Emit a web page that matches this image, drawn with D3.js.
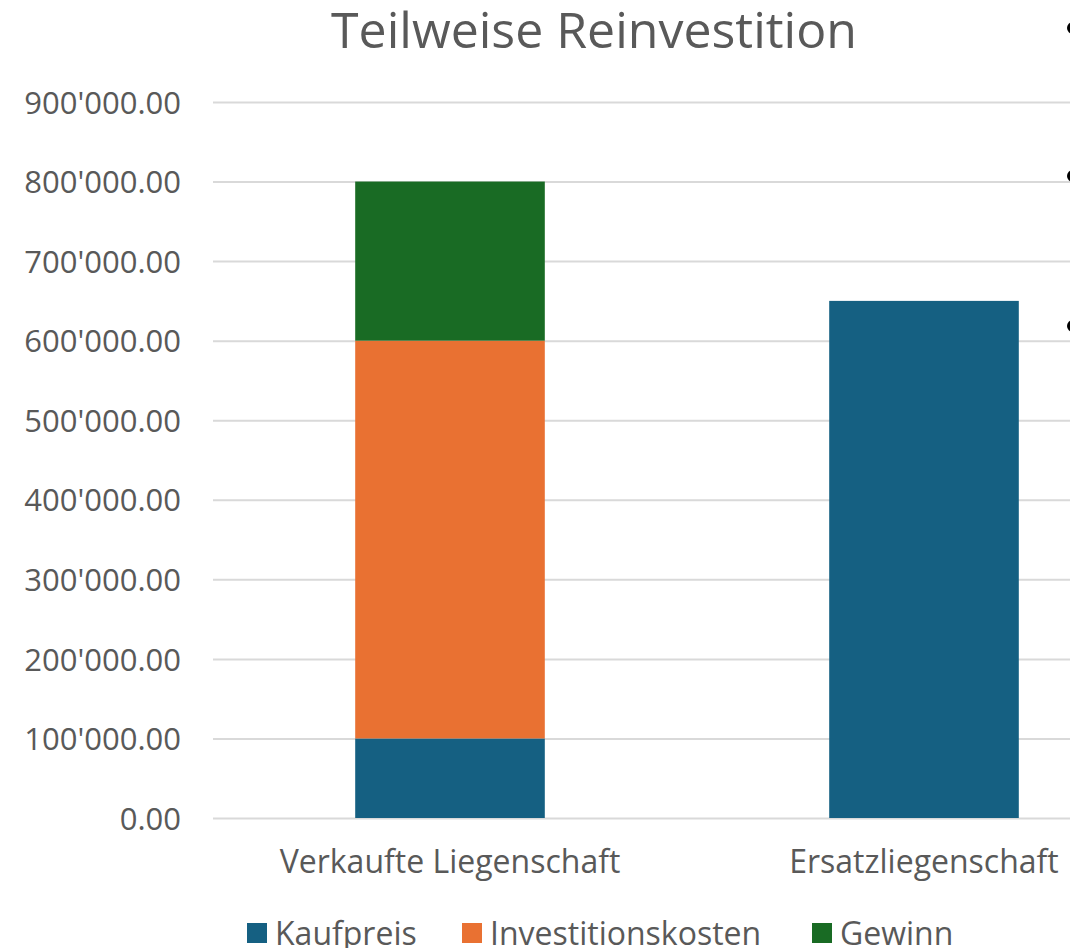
<!DOCTYPE html>
<html>
<head>
<meta charset="utf-8">
<script src="https://cdn.jsdelivr.net/npm/d3@7.9.0/dist/d3.min.js"></script>
<style>
  html, body { margin: 0; padding: 0; background: #fff; }
  svg { display: block; font-family: "Open Sans", "Noto Sans", sans-serif; }
</style>
</head>
<body>
<svg width="1070" height="948"></svg>
<script>
const categories = ['Verkaufte Liegenschaft', 'Ersatzliegenschaft'];
const seriesNames = ['Kaufpreis', 'Investitionskosten', 'Gewinn'];
const kaufpreis = [100000, 650000];
const investitionskosten = [500000, 0];
const gewinn = [200000, 0];
const yTicks = [0, 100000, 200000, 300000, 400000, 500000, 600000, 700000, 800000, 900000];
const colors = ['#156082', '#E97132', '#196B24'];

const svg = d3.select('svg');
const textColor = '#595959';

// build rows for the stack
const rows = categories.map((c, i) => ({
  category: c,
  Kaufpreis: kaufpreis[i],
  Investitionskosten: investitionskosten[i],
  Gewinn: gewinn[i]
}));
const stacked = d3.stack().keys(seriesNames)(rows);

const x = d3.scaleBand()
  .domain(categories)
  .range([213, 1161])
  .paddingInner(0.6)
  .paddingOuter(0.3);

const y = d3.scaleLinear()
  .domain([0, 900000])
  .range([818, 102]);

const fmt = (v) => d3.format(',.2f')(v).replace(/,/g, "'");

// gridlines + y labels
const yAxis = svg.append('g')
  .attr('transform', 'translate(213,0)')
  .call(d3.axisLeft(y).tickValues(yTicks).tickSize(-900).tickPadding(32).tickFormat(fmt));
yAxis.attr('font-family', null).attr('font-size', null);
yAxis.select('.domain').remove();
yAxis.selectAll('.tick line').attr('stroke', '#d9d9d9').attr('stroke-width', 2);
yAxis.selectAll('.tick text')
  .attr('fill', textColor)
  .attr('dy', '0.36em')
  .style('font-size', '31px');

// bars
svg.append('g').selectAll('g')
  .data(stacked)
  .join('g')
  .attr('fill', (d, i) => colors[i])
  .selectAll('rect')
  .data(d => d)
  .join('rect')
  .attr('x', d => x(d.data.category))
  .attr('width', x.bandwidth())
  .attr('y', d => y(d[1]))
  .attr('height', d => y(d[0]) - y(d[1]));

// category labels
svg.append('g').selectAll('text')
  .data(categories)
  .join('text')
  .attr('x', d => x(d) + x.bandwidth() / 2)
  .attr('y', 873)
  .attr('text-anchor', 'middle')
  .attr('fill', textColor)
  .style('font-size', '32px')
  .text(d => d);

// title
svg.append('text')
  .attr('x', 594)
  .attr('y', 48)
  .attr('text-anchor', 'middle')
  .attr('fill', textColor)
  .style('font-size', '50px')
  .text('Teilweise Reinvestition');

// legend
const legendX = [247, 462, 812];
const legend = svg.append('g').selectAll('g')
  .data(seriesNames)
  .join('g')
  .attr('transform', (d, i) => `translate(${legendX[i]},933)`);
legend.append('rect')
  .attr('x', 0).attr('y', -10)
  .attr('width', 20).attr('height', 20)
  .attr('fill', (d, i) => colors[i]);
legend.append('text')
  .attr('x', 28).attr('y', 12)
  .attr('fill', textColor)
  .style('font-size', '32px')
  .text(d => d);

// clipped bullets at the right edge (from overlapping slide text)
svg.append('g').selectAll('circle')
  .data([28, 176, 326])
  .join('circle')
  .attr('cx', 1073)
  .attr('cy', d => d)
  .attr('r', 6)
  .attr('fill', '#000');
</script>
</body>
</html>
